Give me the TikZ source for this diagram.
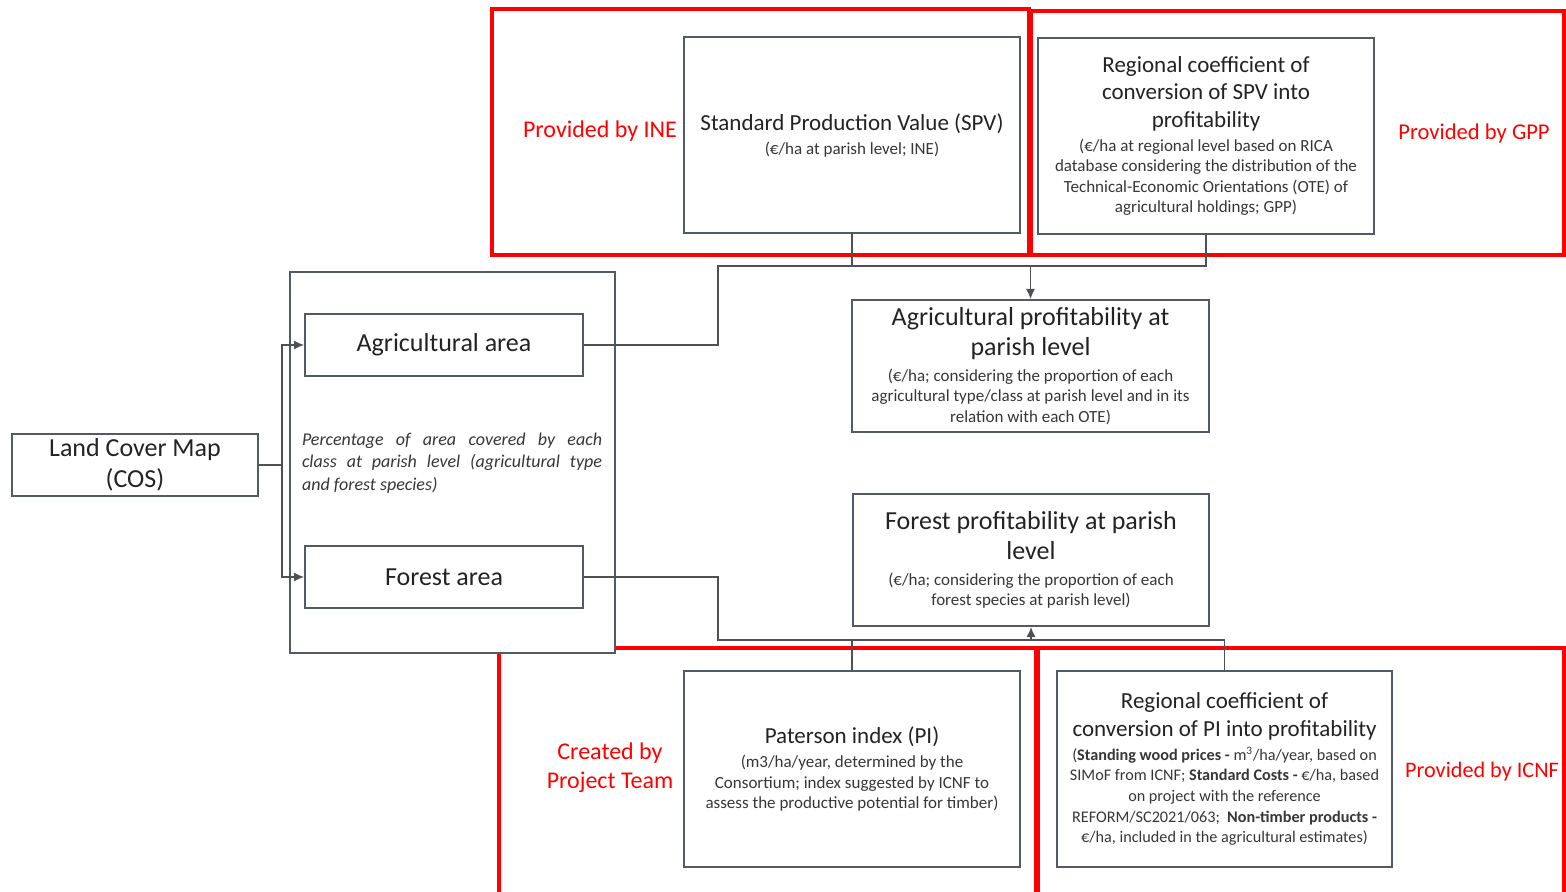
\documentclass[tikz,border=0pt]{standalone}
\usepackage{fontspec}
\setmainfont{Carlito}
\usetikzlibrary{arrows.meta}
\definecolor{boxc}{RGB}{82,90,104}
\definecolor{linec}{RGB}{80,80,85}
\definecolor{txt}{RGB}{35,35,35}
\definecolor{stxt}{RGB}{55,55,55}
\newcommand{\titlef}{\fontsize{11.5}{10.3}\selectfont\color{txt}}
\newcommand{\bigtf}{\fontsize{13}{10.3}\selectfont\color{txt}}
\newcommand{\smallf}{\fontsize{8.5}{10.3}\selectfont\color{stxt}}
\newcommand{\smallerf}{\fontsize{8.1}{10.3}\selectfont\color{stxt}}
\newcommand{\nolsl}{\setlength{\lineskiplimit}{-30pt}}
\tikzset{
  box/.style={draw=boxc, line width=1pt, fill=white, inner sep=0pt, align=center,
    font=\fontsize{8.5}{10.3}\selectfont\nolsl},
  redbox/.style={draw=red, line width=2pt},
  redlbl/.style={text=red, font=\fontsize{12}{14.5}\selectfont, align=center, inner sep=0pt},
  conn/.style={draw=linec, line width=0.6pt},
  arr/.style={conn, -{Latex[length=5pt,width=4.5pt]}}
}
\begin{document}
\begin{tikzpicture}[x=0.5pt,y=-0.5pt]
\useasboundingbox (0,0) rectangle (1566,892);
% red boxes
\draw[redbox] (492,9) rectangle (1029,255);
\draw[redbox] (1031,11) rectangle (1564,255);
\draw[redbox] (499,648) rectangle (1036,900);
\draw[redbox] (1038,648) rectangle (1564,900);
% container
\node[box, minimum width=162.5pt, minimum height=190.5pt] (cont) at (452.5,462.5) {};
% boxes
\node[box, minimum width=168pt, minimum height=98pt] (spv) at (852,135)
  {\titlef Standard Production Value (SPV)\\[1.7pt] \smallf (€/ha at parish level; INE)};
\node[box, minimum width=168pt, minimum height=98pt] (regspv) at (1206,136)
  {\titlef Regional coefficient of\\[3.45pt] \titlef conversion of SPV into\\[3.45pt] \titlef profitability\\[1.7pt]
   \smallf (€/ha at regional level based on RICA\\ \smallf database considering the distribution of the\\
   \smallf Technical-Economic Orientations (OTE) of\\ \smallf agricultural holdings; GPP)};
\node[box, minimum width=178.5pt, minimum height=66pt] (agp) at (1030.5,366)
  {\bigtf Agricultural profitability at\\[4.7pt] \bigtf parish level\\[2.7pt]
   \smallf (€/ha; considering the proportion of each\\ \smallf agricultural type/class at parish level and in its\\
   \smallf relation with each OTE)};
\node[box, minimum width=178pt, minimum height=66pt] (forp) at (1031,560)
  {\bigtf Forest profitability at parish\\[4.7pt] \bigtf level\\[2.7pt]
   \smallf (€/ha; considering the proportion of each\\ \smallf forest species at parish level)};
\node[box, minimum width=168pt, minimum height=98pt] (pi) at (852,769)
  {\titlef Paterson index (PI)\\[1.7pt] \smallf (m3/ha/year, determined by the\\
   \smallf Consortium; index suggested by ICNF to\\ \smallf assess the productive potential for timber)};
\node[box, minimum width=167.5pt, minimum height=98pt] (regpi) at (1224.5,769)
  {\titlef Regional coefficient of\\[3.7pt] \titlef conversion of PI into profitability\\[1.7pt]
   \smallerf (\textbf{Standing wood prices -} m\textsuperscript{3}/ha/year, based on\\
   \smallerf SIMoF from ICNF; \textbf{Standard Costs -} €/ha, based\\
   \smallerf on project with the reference\\
   \smallerf REFORM/SC2021/063;\ \ \textbf{Non-timber products -}\\
   \smallerf €/ha, included in the agricultural estimates)};
\node[box, minimum width=123pt, minimum height=31pt, font=\fontsize{13}{15.5}\selectfont\color{txt}] (lcm) at (135,465)
  {Land Cover Map\\(COS)};
\node[box, minimum width=139pt, minimum height=31pt, font=\fontsize{13}{15}\selectfont\color{txt}] (agarea) at (444,345) {Agricultural area};
\node[box, minimum width=139pt, minimum height=31pt, font=\fontsize{13}{15}\selectfont\color{txt}] (forarea) at (444,577) {Forest area};
\node[inner sep=0pt, text width=150pt, align=justify, font=\fontsize{9}{11.25}\selectfont\itshape\color{stxt}] (pct) at (452,463)
  {Percentage of area covered by each\linebreak class at parish level (agricultural type\linebreak and forest species)};
% red labels
\node[redlbl] (lbine) at (600,131) {Provided by INE};
\node[redlbl, font=\fontsize{11.3}{14.5}\selectfont] (lbgpp) at (1474,133) {Provided by GPP};
\node[redlbl] (lbpt) at (610,768) {Created by\\Project Team};
\node[redlbl, font=\fontsize{11.1}{14.5}\selectfont] (lbicnf) at (1482,772) {Provided by ICNF};
% connectors top
\coordinate (jt) at (agp.north |- 0,266);
\coordinate (ka) at (718,266);
\draw[conn] (spv.south) |- (jt);
\draw[conn] (regspv.south) |- (jt);
\draw[conn] (agarea.east) -| (ka) -- (jt);
\draw[arr] (jt) -- (agp.north);
% connectors bottom
\coordinate (jb) at (forp.south |- 0,640);
\coordinate (kb) at (718,640);
\draw[conn] (pi.north) |- (jb);
\draw[conn] (regpi.north) |- (jb);
\draw[conn] (forarea.east) -| (kb) -- (jb);
\draw[arr] (jb) -- (forp.south);
% land cover
\coordinate (kl) at (282,465);
\draw[conn] (lcm.east) -- (kl);
\draw[arr] (kl) |- (agarea.west);
\draw[arr] (kl) |- (forarea.west);
\end{tikzpicture}
\end{document}
